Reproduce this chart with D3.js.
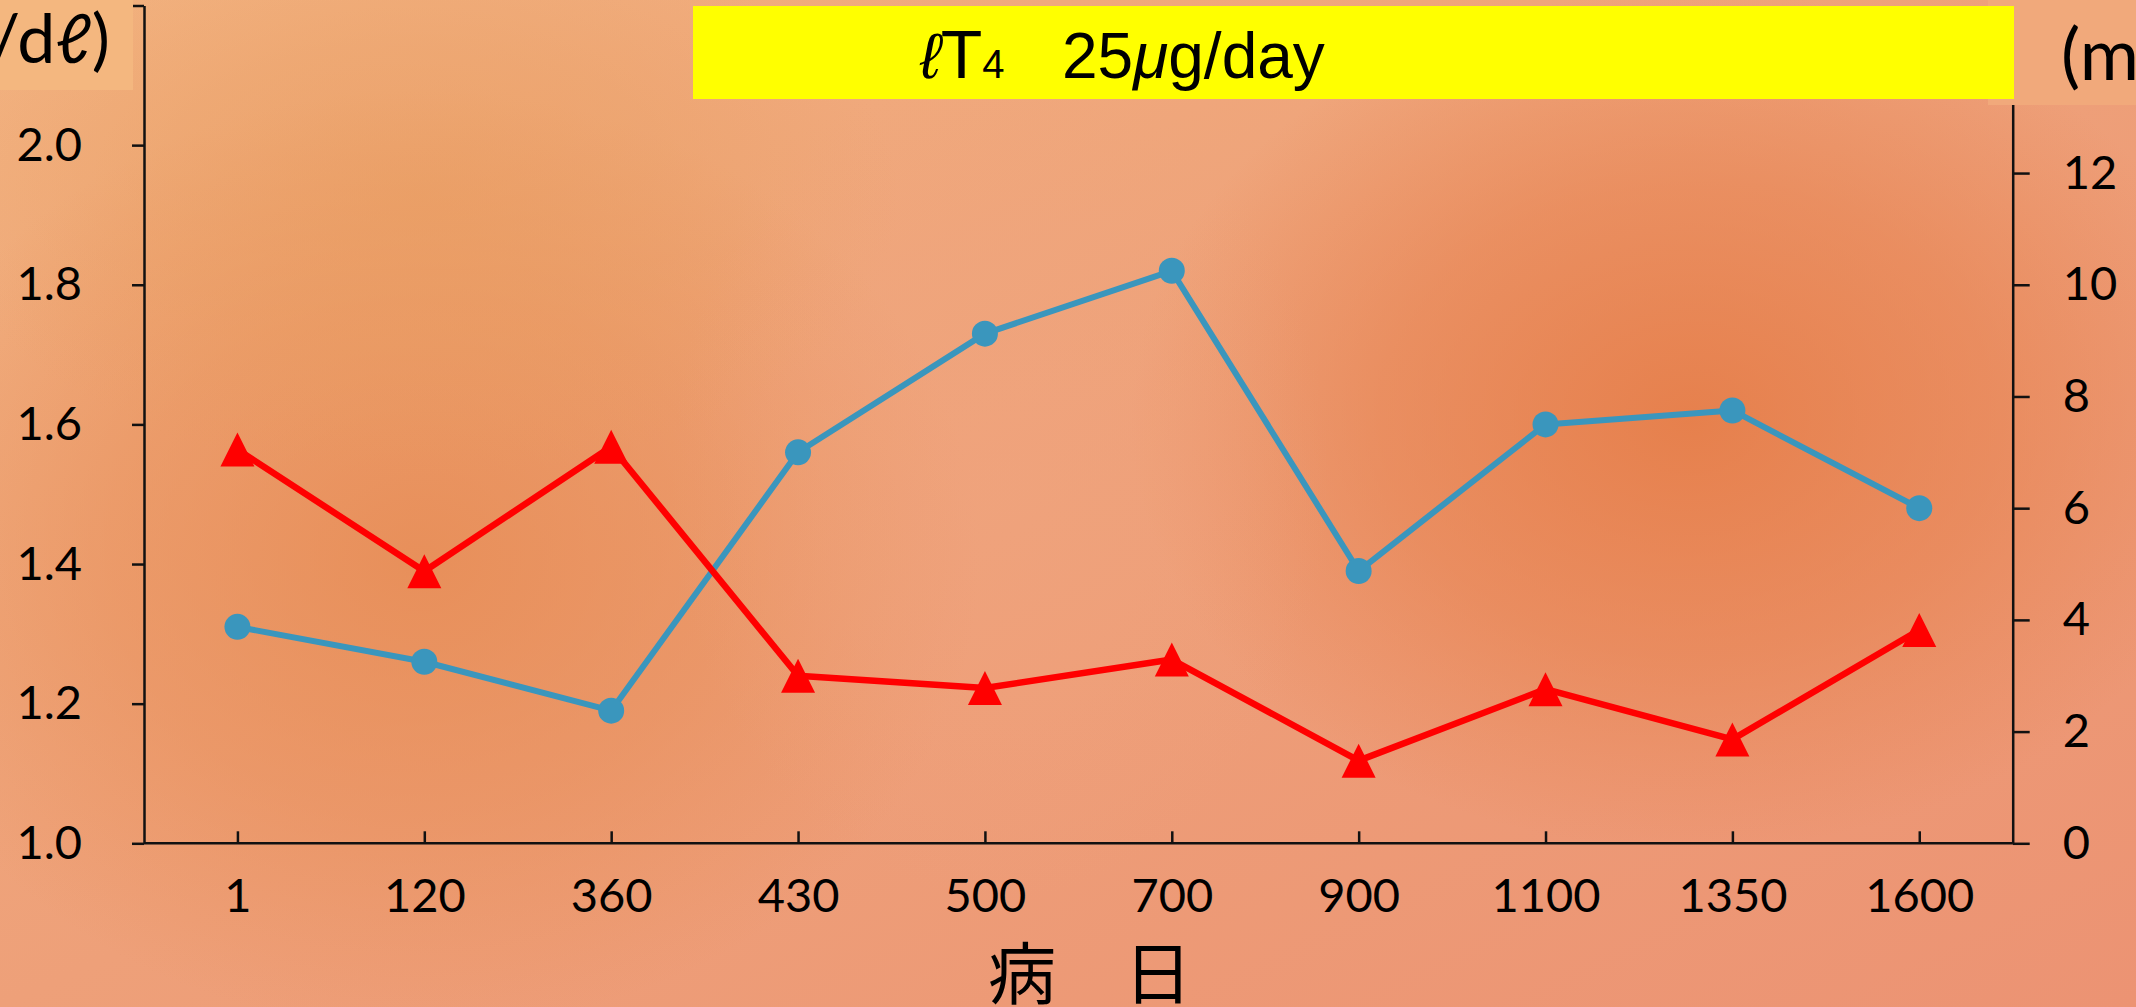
<!DOCTYPE html>
<html>
<head>
<meta charset="utf-8">
<script src="https://cdn.jsdelivr.net/npm/d3@7"></script>
<style>
  html, body { margin: 0; padding: 0; background: #EE9E78; overflow: hidden; }
  svg { display: block; }
</style>
</head>
<body>
<script>
// Observation days (x categories)
const days = ["1", "120", "360", "430", "500", "700", "900", "1100", "1350", "1600"];
// Blue series, left axis
const blueValues = [1.31, 1.26, 1.19, 1.56, 1.73, 1.82, 1.39, 1.60, 1.62, 1.48];
// Red series, right axis
const redValues = [7.05, 4.87, 7.10, 3.00, 2.78, 3.29, 1.48, 2.76, 1.86, 3.82];
// Axis ticks
const leftTicks = [1.0, 1.2, 1.4, 1.6, 1.8, 2.0, 2.2];
const rightTicks = [0, 2, 4, 6, 8, 10, 12, 14];

const W = 2136, H = 1007;
const plot = { left: 144, right: 2012.7, top: 5.5, bottom: 843.3 };

const svg = d3.select("body").append("svg")
  .attr("width", W).attr("height", H)
  .attr("viewBox", `0 0 ${W} ${H}`);

const defs = svg.append("defs");

// ---- background: warm diagonal wash with soft orange patches ----
const lin = defs.append("linearGradient").attr("id", "bgLin")
  .attr("x1", "0").attr("y1", "0").attr("x2", "1").attr("y2", "1");
lin.append("stop").attr("offset", "0%").attr("stop-color", "#F2B27F");
lin.append("stop").attr("offset", "50%").attr("stop-color", "#EEA079");
lin.append("stop").attr("offset", "100%").attr("stop-color", "#EC9373");

svg.append("rect").attr("width", W).attr("height", H).attr("fill", "url(#bgLin)");

const patches = [
  { id: "p1", cx: 420, cy: 560, rx: 560, ry: 470, color: "#E68A52", op: 0.8 },
  { id: "p2", cx: 1690, cy: 420, rx: 560, ry: 430, color: "#E57B45", op: 0.85 },
  { id: "p3", cx: 420, cy: 200, rx: 480, ry: 280, color: "#E89C5E", op: 0.6 },
  { id: "p4", cx: 1000, cy: 480, rx: 330, ry: 420, color: "#F0A47E", op: 0.55 }
];
patches.forEach(p => {
  const g = defs.append("radialGradient").attr("id", p.id)
    .attr("cx", "50%").attr("cy", "50%").attr("r", "50%");
  g.append("stop").attr("offset", "0%").attr("stop-color", p.color).attr("stop-opacity", p.op);
  g.append("stop").attr("offset", "55%").attr("stop-color", p.color).attr("stop-opacity", p.op * 0.55);
  g.append("stop").attr("offset", "100%").attr("stop-color", p.color).attr("stop-opacity", 0);
  svg.append("ellipse")
    .attr("cx", p.cx).attr("cy", p.cy).attr("rx", p.rx).attr("ry", p.ry)
    .attr("fill", `url(#${p.id})`);
});

// ---- scales ----
const x = d3.scalePoint().domain(days).range([plot.left, plot.right]).padding(0.5);
const yL = d3.scaleLinear().domain([1.0, 2.2]).range([plot.bottom, plot.top]);
const yR = d3.scaleLinear().domain([0, 15]).range([plot.bottom, plot.top]);

const tickFont = "Lato, 'Open Sans', sans-serif";

// ---- axes ----
const axisStyle = g => {
  g.selectAll(".domain").attr("stroke", "#111").attr("stroke-width", 2.5);
  g.selectAll(".tick line").attr("stroke", "#111").attr("stroke-width", 2.5);
  g.selectAll("text").attr("fill", "#000").style("font-family", tickFont).style("font-size", "47px");
};

const xAxis = svg.append("g")
  .attr("transform", `translate(0,${plot.bottom})`)
  .call(d3.axisBottom(x).tickSizeInner(-12).tickSizeOuter(0).tickPadding(0))
  .call(axisStyle);
xAxis.select(".domain").attr("d", `M${plot.left},0H${plot.right}`);
xAxis.selectAll(".tick text").attr("y", 69).attr("dy", 0);

const leftAxis = svg.append("g")
  .attr("transform", `translate(${plot.left},0)`)
  .call(d3.axisLeft(yL).tickValues(leftTicks).tickFormat(d3.format(".1f"))
        .tickSizeInner(12).tickSizeOuter(0).tickPadding(50))
  .call(axisStyle);
leftAxis.selectAll(".tick text").filter(d => d > 2.05).remove();

const rightAxis = svg.append("g")
  .attr("transform", `translate(${plot.right},0)`)
  .call(d3.axisRight(yR).tickValues(rightTicks).tickFormat(d3.format("d"))
        .tickSizeInner(17).tickSizeOuter(0).tickPadding(33))
  .call(axisStyle);
rightAxis.selectAll(".tick text").filter(d => d > 13).remove();

// ---- series ----
const blueColor = "#3A96BD";
const redColor = "#FF0000";

const blueLine = d3.line().x((d, i) => x(days[i])).y(d => yL(d));
const redLine = d3.line().x((d, i) => x(days[i])).y(d => yR(d));

svg.append("path").datum(blueValues)
  .attr("d", blueLine).attr("fill", "none")
  .attr("stroke", blueColor).attr("stroke-width", 6).attr("stroke-linejoin", "round");
svg.append("g").selectAll("circle").data(blueValues).join("circle")
  .attr("cx", (d, i) => x(days[i])).attr("cy", d => yL(d))
  .attr("r", 13).attr("fill", blueColor);

svg.append("path").datum(redValues)
  .attr("d", redLine).attr("fill", "none")
  .attr("stroke", redColor).attr("stroke-width", 6.5).attr("stroke-linejoin", "round");

// triangle marker whose bounding box is centred on the data point
const triangleMarker = {
  draw(context, size) {
    const w = Math.sqrt(size), h = w;
    context.moveTo(0, -h / 2);
    context.lineTo(w / 2, h / 2);
    context.lineTo(-w / 2, h / 2);
    context.closePath();
  }
};
svg.append("g").selectAll("path").data(redValues).join("path")
  .attr("transform", (d, i) => `translate(${x(days[i])},${yR(d)})`)
  .attr("d", d3.symbol().type(triangleMarker).size(34 * 34))
  .attr("fill", redColor);

// ---- axis titles ----
const titleFont = "Lato, 'Open Sans', sans-serif";

// left axis unit, in its own light panel
defs.append("clipPath").attr("id", "leftClip")
  .append("rect").attr("x", 0).attr("y", 0).attr("width", 133).attr("height", 90);
svg.append("rect").attr("x", 0).attr("y", 0).attr("width", 133).attr("height", 90)
  .attr("fill", "#F4B77F");
svg.append("g").attr("clip-path", "url(#leftClip)")
  .append("text")
  .attr("x", 110).attr("y", 63)
  .attr("text-anchor", "end")
  .style("font-family", titleFont).style("font-size", "68px")
  .attr("fill", "#000")
  .text("FT4 (ng/dℓ)");

// right axis unit panel
defs.append("clipPath").attr("id", "rightClip")
  .append("rect").attr("x", 1988).attr("y", 0).attr("width", W - 1988).attr("height", 105);
svg.append("rect").attr("x", 1988).attr("y", 0).attr("width", W - 1988).attr("height", 105)
  .attr("fill", "#F1A97B");
svg.append("g").attr("clip-path", "url(#rightClip)")
  .append("text")
  .attr("x", 2061).attr("y", 80)
  .style("font-family", titleFont).style("font-size", "72px")
  .attr("fill", "#000")
  .text("(mU/mℓ)");

// dose banner
svg.append("rect").attr("x", 693).attr("y", 6).attr("width", 2014 - 693).attr("height", 93)
  .attr("fill", "#FFFF00");
const banner = svg.append("text")
  .attr("y", 78)
  .style("font-family", "'Liberation Sans', Arial, sans-serif")
  .style("font-size", "64px")
  .attr("fill", "#000");
banner.append("tspan").attr("x", 920).style("font-style", "italic").text("ℓ");
banner.append("tspan").style("font-size", "68px").text("T");
banner.append("tspan").style("font-size", "40px").text("4");
banner.append("tspan").attr("x", 1062).text("25");
banner.append("tspan").style("font-style", "italic").text("μ");
banner.append("tspan").text("g/day");

// x axis title
svg.append("text")
  .attr("x", 1090).attr("y", 999)
  .attr("text-anchor", "middle")
  .style("font-family", "'Noto Sans CJK JP', sans-serif")
  .style("font-size", "68px")
  .attr("fill", "#000")
  .text("病　日");
</script>
</body>
</html>
